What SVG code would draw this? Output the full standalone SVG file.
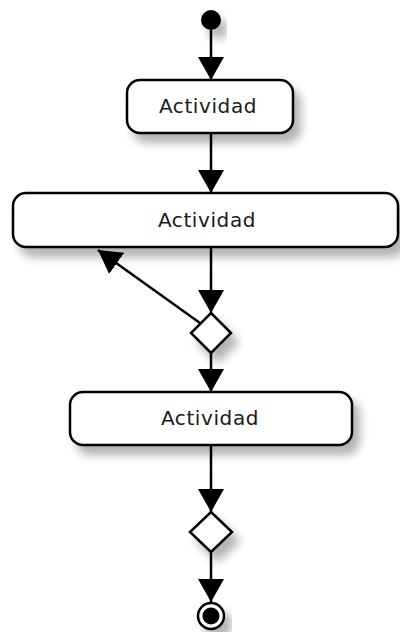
<svg xmlns="http://www.w3.org/2000/svg" width="400" height="632" viewBox="0 0 400 632">
  <style>
    .act { fill: #ffffff; stroke: #000000; stroke-width: 2.5; }
    .dec { fill: #ffffff; stroke: #000000; stroke-width: 2.5; }
    .lbl { font-family: "DejaVu Sans", "Liberation Sans", sans-serif; font-size: 20px; letter-spacing: 0.6px; fill: #1a1a1a; text-anchor: middle; }
    .edge { fill: none; stroke: #000000; stroke-width: 2.5; marker-end: url(#arrow); }
  </style>
  <defs>
    <marker id="arrow" markerUnits="userSpaceOnUse" markerWidth="24" markerHeight="28" viewBox="0 0 24 28" refX="23" refY="14" orient="auto">
      <path d="M0,1 L23,14 L0,27 Z" fill="#000000"/>
    </marker>
    <filter id="shadow" x="-20%" y="-40%" width="150%" height="220%">
      <feGaussianBlur in="SourceAlpha" stdDeviation="5"/>
      <feOffset dx="7" dy="9" result="b"/>
      <feComponentTransfer><feFuncA type="linear" slope="0.3"/></feComponentTransfer>
      <feMerge><feMergeNode/><feMergeNode in="SourceGraphic"/></feMerge>
    </filter>
  </defs>
  <rect width="400" height="632" fill="#ffffff"/>

  <g id="connectors">
    <line class="edge" x1="211" y1="30" x2="211" y2="80"/>
    <line class="edge" x1="211" y1="133" x2="211" y2="193"/>
    <line class="edge" x1="211" y1="247" x2="211" y2="313"/>
    <line class="edge" x1="200" y1="323" x2="98" y2="250"/>
    <line class="edge" x1="211" y1="353" x2="211" y2="392"/>
    <line class="edge" x1="211" y1="445" x2="211" y2="512"/>
    <line class="edge" x1="211" y1="552" x2="211" y2="602"/>
  </g>

  <g id="start" filter="url(#shadow)">
    <circle cx="211" cy="20" r="10" fill="#000000"/>
  </g>

  <g id="actividad1" filter="url(#shadow)">
    <rect class="act" x="127" y="80" width="166" height="53" rx="13" ry="13"/>
  </g>
  <text class="lbl" x="208" y="113">Actividad</text>

  <g id="actividad2" filter="url(#shadow)">
    <rect class="act" x="13" y="193" width="385" height="54" rx="13" ry="13"/>
  </g>
  <text class="lbl" x="207" y="227">Actividad</text>

  <g id="decision1" filter="url(#shadow)">
    <polygon class="dec" points="211,313 231,333 211,353 191,333"/>
  </g>

  <g id="actividad3" filter="url(#shadow)">
    <rect class="act" x="70" y="392" width="282" height="53" rx="13" ry="13"/>
  </g>
  <text class="lbl" x="210" y="425">Actividad</text>

  <g id="decision2" filter="url(#shadow)">
    <polygon class="dec" points="211,512 232,532 211,552 190,532"/>
  </g>

  <g id="end" filter="url(#shadow)">
    <circle cx="211" cy="616" r="13" fill="#ffffff" stroke="#000000" stroke-width="2.5"/>
    <circle cx="211" cy="616" r="8.5" fill="#000000"/>
  </g>
</svg>
